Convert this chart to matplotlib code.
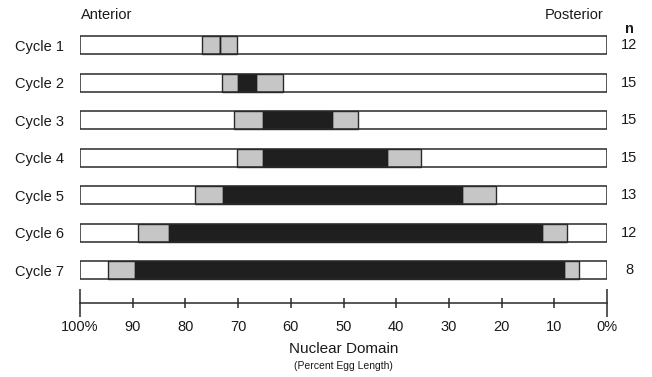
import matplotlib
matplotlib.use("Agg")
import matplotlib.pyplot as plt
import matplotlib.transforms as mtransforms

plt.rcParams['font.family'] = ['Liberation Sans', 'DejaVu Sans']

# ---- data (percent egg length, 100 = anterior, 0 = posterior) ----
cycles = ["Cycle 1", "Cycle 2", "Cycle 3", "Cycle 4", "Cycle 5", "Cycle 6", "Cycle 7"]
n_values = [12, 15, 15, 15, 13, 12, 8]
gray_anterior = [76.9, 73.1, 70.8, 70.3, 78.2, 88.9, 94.7]
black_anterior = [73.4, 70.1, 65.2, 65.3, 72.8, 83.1, 89.6]
black_posterior = [73.4, 66.6, 52.2, 41.8, 27.5, 12.3, 8.1]
gray_posterior = [70.2, 61.4, 47.3, 35.2, 21.1, 7.5, 5.4]
major_ticks = [100, 0]
major_labels = ["100%", "0%"]
minor_ticks = [90, 80, 70, 60, 50, 40, 30, 20, 10]
minor_labels = ["90", "80", "70", "60", "50", "40", "30", "20", "10"]

W, H = 652, 377
fig = plt.figure(figsize=(W / 100, H / 100), dpi=100)
ax = fig.add_axes([80 / W, 1 - 303 / H, 527 / W, (303 - 20) / H])
ax.set_xlim(100, 0)
ax.set_ylim(6.88, -0.667)
ax.patch.set_alpha(0)

rows = list(range(len(cycles)))
bar_h = 0.48
edge = "#2a2a2a"
gray = "#c6c6c6"
dark = "#1f1f1f"

# white full-length boxes
ax.barh(rows, [100] * len(rows), left=[0] * len(rows), height=bar_h,
        color="white", edgecolor="none", zorder=1)
# gray anterior segments
ax.barh(rows, [a - b for a, b in zip(gray_anterior, black_anterior)], left=black_anterior,
        height=bar_h, color=gray, edgecolor=edge, linewidth=1.0, zorder=2)
# gray posterior segments
ax.barh(rows, [a - b for a, b in zip(black_posterior, gray_posterior)], left=gray_posterior,
        height=bar_h, color=gray, edgecolor=edge, linewidth=1.0, zorder=2)
# black segments
ax.barh(rows, [a - b for a, b in zip(black_anterior, black_posterior)], left=black_posterior,
        height=bar_h, color=dark, edgecolor=dark, linewidth=1.0, zorder=3)
# outline boxes
ax.barh(rows, [100] * len(rows), left=[0] * len(rows), height=bar_h,
        fill=False, edgecolor=edge, linewidth=1.1, zorder=4)

# y labels
ax.set_yticks(rows)
ax.set_yticklabels(cycles, fontsize=10.5, color="#1a1a1a")
ax.tick_params(axis="y", length=0, pad=11.5)

# x axis
for s in ["top", "left", "right"]:
    ax.spines[s].set_visible(False)
ax.spines["bottom"].set_linewidth(1.1)
ax.spines["bottom"].set_color(edge)
ax.set_xticks(major_ticks)
ax.set_xticklabels(major_labels)
ax.set_xticks(minor_ticks, minor=True)
ax.set_xticklabels(minor_labels, minor=True)
ax.tick_params(axis="x", which="major", direction="inout", length=19.5, width=1.1,
               color=edge, pad=2.6, labelsize=10.5, labelcolor="#1a1a1a")
ax.tick_params(axis="x", which="minor", direction="inout", length=6.5, width=1.1,
               color=edge, pad=8.8, labelsize=10.5, labelcolor="#1a1a1a")

ax.set_xlabel("Nuclear Domain", fontsize=11, labelpad=6, color="#1a1a1a")
fig.text(343 / W, 1 - 366 / H, "(Percent Egg Length)", fontsize=7.5,
         ha="center", va="center", color="#1a1a1a")

fig.text(81 / W, 1 - 15 / H, "Anterior", fontsize=10.5, ha="left", va="center", color="#1a1a1a")
fig.text(604 / W, 1 - 15 / H, "Posterior", fontsize=10.5, ha="right", va="center", color="#1a1a1a")

trans = ax.get_yaxis_transform()
ax.text((629 - 80) / 527, -0.42, "n", transform=trans, fontsize=10.5,
        fontweight="bold", ha="center", va="center", color="#1a1a1a")
for r, n in zip(rows, n_values):
    ax.text((629 - 80) / 527, r, str(n), transform=trans, fontsize=10.5,
            ha="center", va="center", color="#1a1a1a")

fig.savefig("out.png", dpi=100)
